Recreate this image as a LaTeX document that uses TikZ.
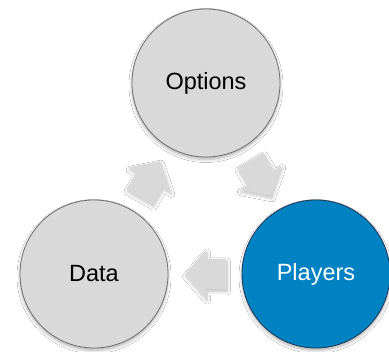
\documentclass[tikz,border=0pt]{standalone}
\usepackage{fontspec}
\setmainfont{Liberation Sans}
\usetikzlibrary{calc,shadows.blur}
\definecolor{circgray}{HTML}{D9D9D9}
\definecolor{circline}{HTML}{6E6E6E}
\definecolor{playblue}{HTML}{0082C3}
\definecolor{playline}{HTML}{1F3550}
\definecolor{arrowgray}{HTML}{D9D9D9}
\tikzset{
  stage/.style={circle, minimum size=148pt, inner sep=0pt, line width=0.8pt,
    font=\fontsize{23.5}{28}\selectfont,
    blur shadow={shadow xshift=0pt, shadow yshift=-2.5pt, shadow blur steps=6, shadow blur radius=3pt, shadow opacity=30}},
  graystage/.style={stage, fill=circgray, draw=circline, text=black},
  bluestage/.style={stage, fill=playblue, draw=playline, text=white},
  cyclearrow/.pic={
    \fill[arrowgray, blur shadow={shadow xshift=1pt, shadow yshift=-2.5pt, shadow blur steps=8, shadow blur radius=3.5pt, shadow opacity=25}]
      (20,0) -- (-1,24) -- (-1,15) -- (-21,15) -- (-21,-15) -- (-1,-15) -- (-1,-24) -- cycle;
  }
}
\begin{document}
\begin{tikzpicture}[x=1pt,y=1pt]
\useasboundingbox (0,0) rectangle (389,352);
\fill[white] (0,0) rectangle (389,352);
\node[graystage] (options) at (206,269) {Options};
\node[graystage] (data) at (94,78) {Data};
\node[bluestage] (players) at (316,78) {Players};
\pic[rotate=60] at ($(data)!0.5!(options)$) {cyclearrow};
\pic[rotate=-60] at ($(options)!0.5!(players)$) {cyclearrow};
\pic[rotate=180] at ($(players)!0.5!(data)$) {cyclearrow};
\end{tikzpicture}
\end{document}
